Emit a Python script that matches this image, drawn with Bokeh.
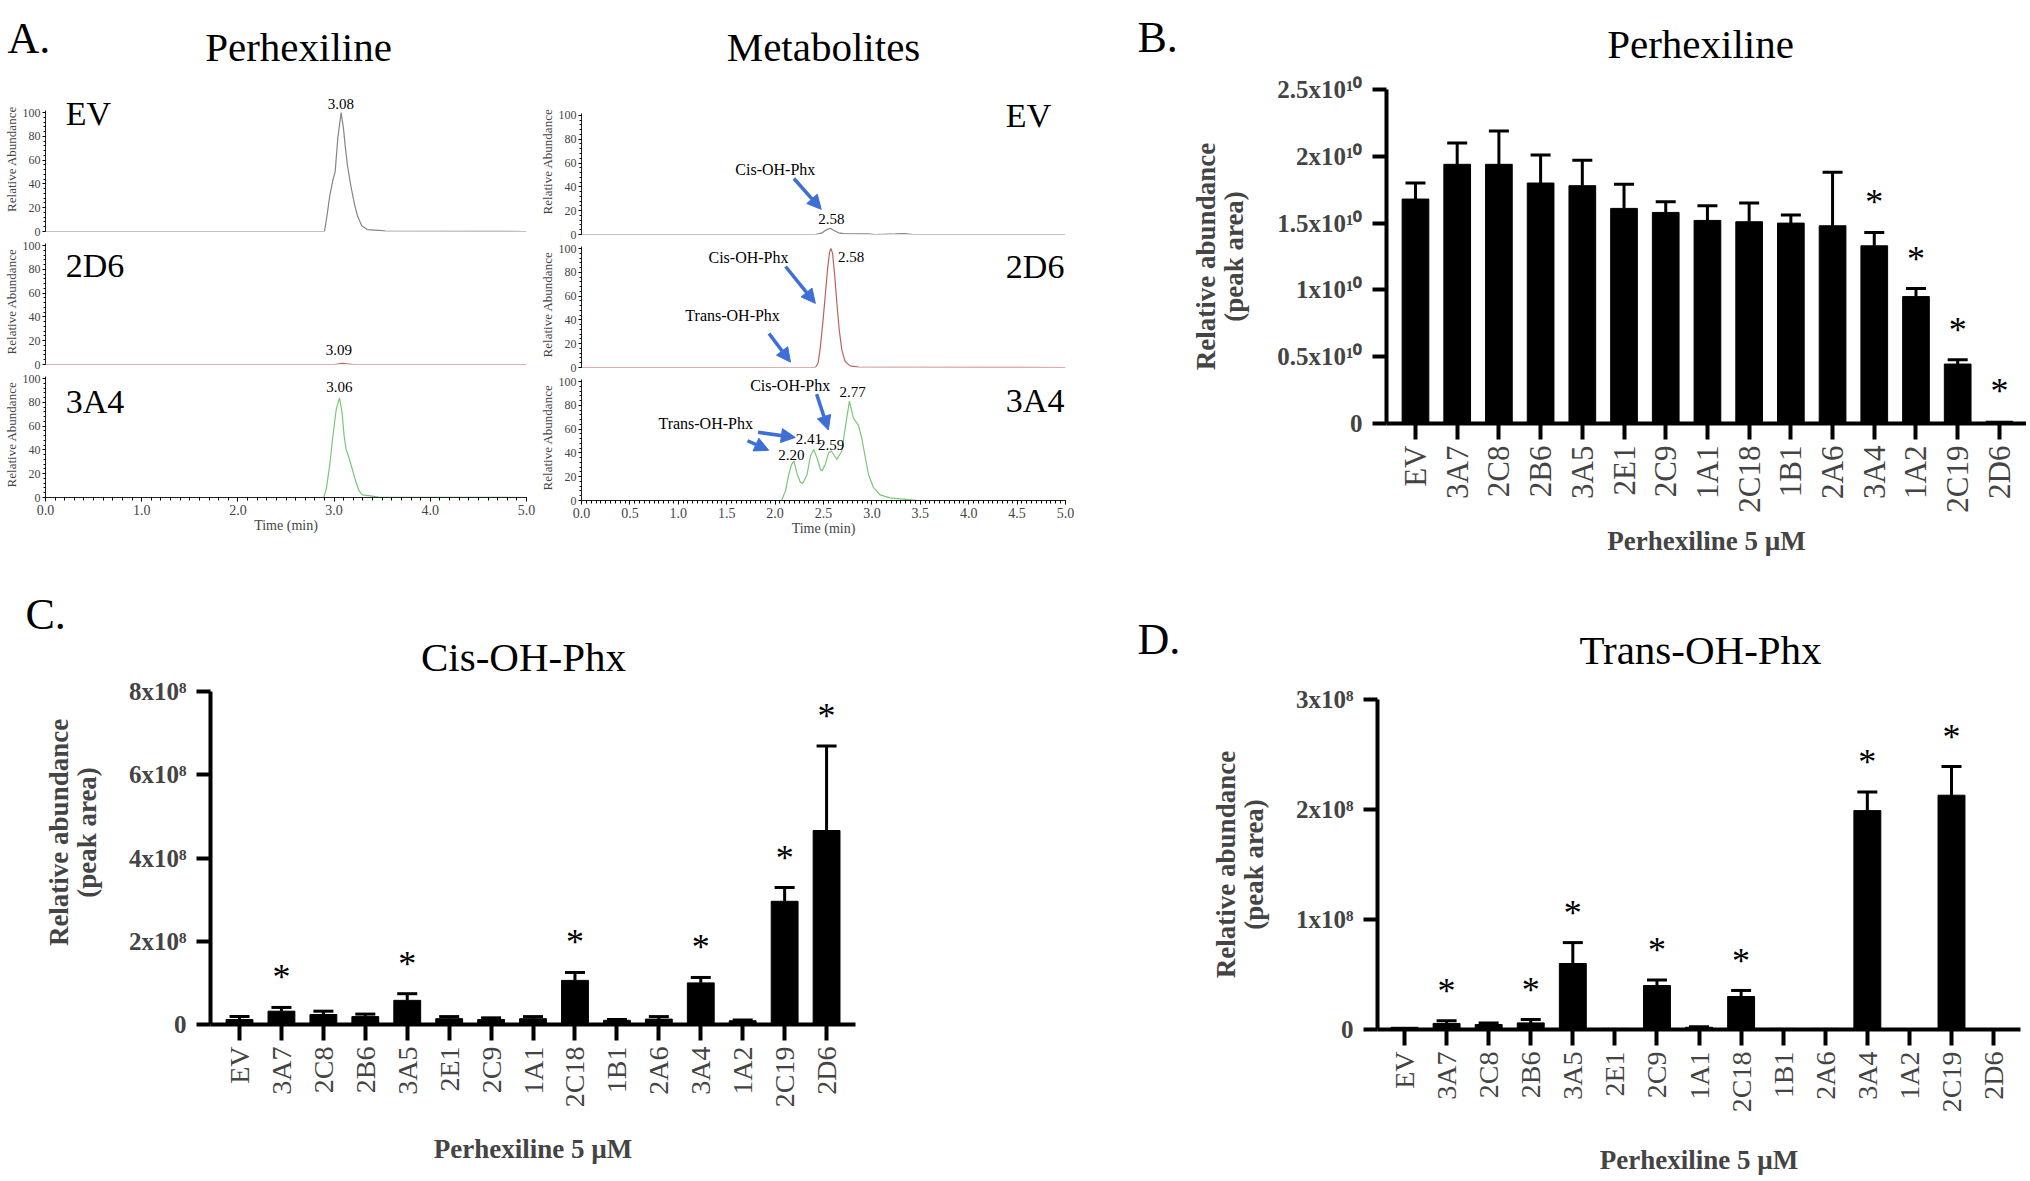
import numpy as np
from bokeh.plotting import figure
from bokeh.layouts import row, column
from bokeh.models import (Range1d, Label, Arrow, NormalHead, Whisker, TeeHead, ColumnDataSource,
                          SingleIntervalTicker, FixedTicker, NumeralTickFormatter, CustomJSTickFormatter)
from bokeh.embed import file_html
from bokeh.resources import INLINE
from bokeh.core.properties import value

SERIF = "Liberation Serif"
BLUE = "#3d6fd6"

# ---------------- data: chromatograms (time min, relative abundance %) ----------------
phx_ev_t = [0.0, 2.90, 2.926, 2.954, 2.988, 3.011, 3.039, 3.073, 3.097, 3.117, 3.141, 3.175, 3.209, 3.243, 3.287, 3.345, 3.498, 3.53, 5.0]
phx_ev_a = [0.0, 0.0, 13.2, 29.6, 43.4, 50.2, 79.0, 100.0, 87.0, 70.8, 54.3, 37.9, 24.1, 13.2, 4.9, 1.6, 0.8, 0.3, 0.0]
phx_2d6_t = [0.0, 3.0, 3.05, 3.09, 3.13, 3.2, 5.0]
phx_2d6_a = [0.0, 0.0, 0.5, 1.0, 0.5, 0.0, 0.0]
phx_3a4_t = [0.0, 2.892, 2.92, 2.954, 2.988, 3.022, 3.056, 3.083, 3.104, 3.124, 3.158, 3.192, 3.226, 3.26, 3.294, 3.396, 3.464, 5.0]
phx_3a4_a = [0.0, 0.0, 7.7, 27.0, 51.9, 74.0, 83.7, 71.2, 51.9, 40.8, 32.6, 22.9, 13.2, 5.5, 2.2, 1.1, 0.3, 0.0]

met_ev_t = [0.0, 2.416, 2.485, 2.536, 2.570, 2.604, 2.656, 2.707, 2.964, 3.03, 3.24, 3.34, 3.425, 5.0]
met_ev_a = [0.0, 0.0, 1.4, 4.1, 5.2, 3.5, 1.4, 0.8, 0.5, 0.0, 0.5, 0.8, 0.0, 0.0]
met_2d6_t = [0.0, 2.416, 2.444, 2.468, 2.495, 2.519, 2.543, 2.563, 2.577, 2.594, 2.615, 2.639, 2.663, 2.69, 2.724, 2.775, 2.861, 5.0]
met_2d6_a = [0.0, 0.0, 3.6, 17.4, 39.4, 61.4, 83.5, 97.2, 100.0, 95.9, 78.0, 53.2, 31.1, 14.6, 5.0, 1.4, 0.3, 0.0]
met_3a4_t = [0.0, 2.067, 2.108, 2.142, 2.169, 2.194, 2.228, 2.262, 2.286, 2.331, 2.365, 2.399, 2.433, 2.468,
             2.485, 2.519, 2.553, 2.580, 2.615, 2.638, 2.69, 2.724, 2.768, 2.809, 2.861, 2.895, 2.929, 2.964,
             3.015, 3.084, 3.186, 3.374, 3.477, 5.0]
met_3a4_a = [0.0, 0.0, 8.3, 22.1, 30.0, 33.2, 22.1, 15.2, 14.4, 22.1, 37.4, 42.9, 35.8, 26.3,
             24.9, 30.5, 40.2, 41.6, 37.4, 34.6, 41.6, 60.9, 83.6, 69.2, 63.2, 52.6, 37.4, 22.1,
             11.1, 4.7, 2.2, 0.8, 0.0, 0.0]

# ---------------- data: bar charts ----------------
cyp = ["EV", "3A7", "2C8", "2B6", "3A5", "2E1", "2C9", "1A1", "2C18", "1B1", "2A6", "3A4", "1A2", "2C19", "2D6"]

phx_mean = [1.68e10, 1.94e10, 1.94e10, 1.80e10, 1.78e10, 1.61e10, 1.58e10, 1.52e10, 1.51e10, 1.50e10, 1.48e10, 1.33e10, 0.95e10, 0.445e10, 0.017e10]
phx_err = [0.12e10, 0.16e10, 0.25e10, 0.21e10, 0.19e10, 0.18e10, 0.08e10, 0.11e10, 0.14e10, 0.06e10, 0.40e10, 0.10e10, 0.06e10, 0.033e10, 0.0]
phx_sig = ["3A4", "1A2", "2C19", "2D6"]
phx_yticks = [0, 0.5e10, 1.0e10, 1.5e10, 2.0e10, 2.5e10]

cis_mean = [0.12e8, 0.32e8, 0.24e8, 0.19e8, 0.58e8, 0.14e8, 0.12e8, 0.14e8, 1.06e8, 0.10e8, 0.13e8, 1.00e8, 0.09e8, 2.96e8, 4.66e8]
cis_err = [0.07e8, 0.09e8, 0.08e8, 0.06e8, 0.16e8, 0.05e8, 0.04e8, 0.05e8, 0.19e8, 0.02e8, 0.06e8, 0.13e8, 0.02e8, 0.33e8, 2.03e8]
cis_sig = ["3A7", "3A5", "2C18", "3A4", "2C19", "2D6"]
cis_yticks = [0, 2e8, 4e8, 6e8, 8e8]

trans_mean = [0.02e8, 0.055e8, 0.045e8, 0.06e8, 0.60e8, 0.01e8, 0.40e8, 0.02e8, 0.30e8, 0.01e8, 0.01e8, 1.99e8, 0.005e8, 2.13e8, 0.003e8]
trans_err = [0.0, 0.025e8, 0.015e8, 0.03e8, 0.19e8, 0.0, 0.05e8, 0.005e8, 0.055e8, 0.0, 0.0, 0.17e8, 0.0, 0.26e8, 0.0]
trans_sig = ["3A7", "2B6", "3A5", "2C9", "2C18", "3A4", "2C19"]
trans_yticks = [0, 1e8, 2e8, 3e8]

y_title = "Relative abundance\n(peak area)"
x_title = "Perhexiline 5 \u00b5M"


def lab(p, x, y, text, size, align="left", baseline="alphabetic", color="black"):
    p.add_layout(Label(x=x, y=y, text=text, text_font=SERIF, text_font_size=f"{size}px",
                       text_align=align, text_baseline=baseline, text_color=color))


def arrow(p, x0, y0, x1, y1):
    p.add_layout(Arrow(x_start=x0, y_start=y0, x_end=x1, y_end=y1, line_color=BLUE, line_width=3.5,
                       end=NormalHead(size=14, fill_color=BLUE, line_color=BLUE, line_width=1)))


def title_fig(width, height, text, size, border_top, align="center", offset=0, standoff=0):
    f = figure(width=width, height=height, x_range=Range1d(0, 1), y_range=Range1d(0, 1), title=text,
               min_border_left=0, min_border_right=0, min_border_bottom=0, min_border_top=border_top,
               output_backend="svg", toolbar_location=None)
    f.title.text_font = SERIF
    f.title.text_font_size = f"{size}px"
    f.title.text_font_style = "normal"
    f.title.text_color = "black"
    f.title.align = align
    f.title.offset = offset
    f.title.standoff = standoff
    f.title.vertical_align = "bottom"
    f.xaxis.visible = False
    f.yaxis.visible = False
    f.xgrid.visible = False
    f.ygrid.visible = False
    f.outline_line_color = None
    return f


def chrom(width, height, left, right, top, bottom, ymax, t, a, color, bottom_axis=False, major=1.0):
    p = figure(width=width, height=height, x_range=Range1d(0, 5), y_range=Range1d(0, ymax),
               min_border_left=left, min_border_right=right, min_border_top=top, min_border_bottom=bottom,
               output_backend="svg", toolbar_location=None)
    p.outline_line_color = None
    p.xgrid.grid_line_color = None
    p.ygrid.grid_line_color = None
    p.line(t, a, line_color=color, line_width=1.2)
    ya = p.yaxis[0]
    ya.ticker = SingleIntervalTicker(interval=20, num_minor_ticks=5)
    ya.bounds = (0, 102)
    ya.axis_label = "Relative Abundance"
    ya.axis_label_text_font = SERIF
    ya.axis_label_text_font_size = "13px"
    ya.axis_label_text_font_style = "normal"
    ya.axis_label_standoff = 1
    ya.major_label_text_font = SERIF
    ya.major_label_text_font_size = "12px"
    ya.major_label_standoff = 2
    ya.major_tick_out = 3
    ya.major_tick_in = 0
    ya.minor_tick_out = 2
    ya.minor_tick_in = 0
    ya.axis_line_color = "#222222"
    xa = p.xaxis[0]
    if bottom_axis:
        xa.ticker = SingleIntervalTicker(interval=major, num_minor_ticks=10)
        xa.formatter = NumeralTickFormatter(format="0.0")
        xa.axis_label = "Time (min)"
        xa.axis_label_text_font = SERIF
        xa.axis_label_text_font_size = "14px"
        xa.axis_label_text_font_style = "normal"
        xa.axis_label_standoff = 0
        xa.major_label_text_font = SERIF
        xa.major_label_text_font_size = "14px"
        xa.major_label_standoff = 3
        xa.major_tick_out = 4
        xa.major_tick_in = 0
        xa.minor_tick_out = 3
        xa.minor_tick_in = 0
        xa.axis_line_color = "#222222"
    else:
        xa.visible = False
    return p


GRAY = "#858585"
RED = "#bf6060"
GREEN = "#78c878"

# ---------------- A (left): Perhexiline chromatograms ----------------
aL1 = chrom(536, 158, 42, 10, 6, 7, 122, phx_ev_t, phx_ev_a, GRAY)
aL2 = chrom(536, 133, 42, 10, 0, 7, 105.9, phx_2d6_t, phx_2d6_a, RED)
aL3 = chrom(536, 209, 42, 10, 0, 83, 105.9, phx_3a4_t, phx_3a4_a, GREEN, bottom_axis=True, major=1.0)

lab(aL1, 0.21, 99, "EV", 34)
lab(aL2, 0.21, 83, "2D6", 34)
lab(aL3, 0.21, 81, "3A4", 34)
lab(aL1, 3.07, 107, "3.08", 15, align="center", baseline="middle")
lab(aL2, 3.05, 12.5, "3.09", 15, align="center", baseline="middle")
lab(aL3, 3.056, 93, "3.06", 15, align="center", baseline="middle")

# ---------------- A (right): Metabolite chromatograms ----------------
aR1 = chrom(574, 161, 42, 45, 8, 7, 122.6, met_ev_t, met_ev_a, GRAY)
aR2 = chrom(574, 133, 42, 45, 0, 7, 105.9, met_2d6_t, met_2d6_a, RED)
aR3 = chrom(574, 206, 42, 45, 0, 80, 105.9, met_3a4_t, met_3a4_a, GREEN, bottom_axis=True, major=0.5)

lab(aR1, 4.384, 100, "EV", 34)
lab(aR2, 4.384, 85, "2D6", 34)
lab(aR3, 4.384, 84, "3A4", 34)

lab(aR1, 2.002, 55, "Cis-OH-Phx", 16, align="center", baseline="middle")
arrow(aR1, 2.194, 47.0, 2.477, 21.1)
lab(aR1, 2.582, 13.1, "2.58", 15, align="center", baseline="middle")

lab(aR2, 1.725, 92.6, "Cis-OH-Phx", 16, align="center", baseline="middle")
lab(aR2, 1.561, 44.0, "Trans-OH-Phx", 16, align="center", baseline="middle")
lab(aR2, 2.649, 92.6, "2.58", 15, align="left", baseline="middle")
arrow(aR2, 2.108, 84.9, 2.416, 53.9)
arrow(aR2, 1.937, 28.6, 2.159, 4.5)

lab(aR3, 1.283, 65.1, "Trans-OH-Phx", 16, align="center", baseline="middle")
lab(aR3, 2.156, 96.7, "Cis-OH-Phx", 16, align="center", baseline="middle")
arrow(aR3, 1.824, 57.3, 2.209, 53.0)
arrow(aR3, 1.715, 50.2, 1.934, 42.2)
arrow(aR3, 2.429, 89.4, 2.550, 59.3)
lab(aR3, 2.169, 38.3, "2.20", 15, align="center", baseline="middle")
lab(aR3, 2.348, 51.9, "2.41", 15, align="center", baseline="middle")
lab(aR3, 2.580, 46.6, "2.59", 15, align="center", baseline="middle")
lab(aR3, 2.800, 91.5, "2.77", 15, align="center", baseline="middle")

hA = row(title_fig(60, 80, "A.", 44, 69, "left", 7, standoff=13),
         title_fig(476, 80, "Perhexiline", 41, 69, standoff=0),
         title_fig(574, 80, "Metabolites", 41, 69, standoff=0))


# ---------------- bar panels ----------------
def bars(width, height, left, right, top, bottom, xstart, xend, ymax, ytop, yticks, fmt, means, errs, sig,
         cat_size, ylab_standoff, xlab_standoff):
    p = figure(width=width, height=height, x_range=Range1d(xstart, xend), y_range=Range1d(0, ytop),
               min_border_left=left, min_border_right=right, min_border_top=top, min_border_bottom=bottom,
               output_backend="svg", toolbar_location=None)
    p.outline_line_color = None
    p.xgrid.grid_line_color = None
    p.ygrid.grid_line_color = None
    idx = list(range(len(cyp)))
    p.vbar(x=idx, top=means, bottom=0, width=0.64, fill_color="black", line_color="black")
    ex = [i for i in idx if errs[i] > 0]
    esrc = ColumnDataSource(dict(x=ex, lo=[means[i] for i in ex], hi=[means[i] + errs[i] for i in ex]))
    p.add_layout(Whisker(source=esrc, base="x", lower="lo", upper="hi", dimension="height",
                         line_color="black", line_width=3,
                         upper_head=TeeHead(size=20, line_width=3, line_color="black"), lower_head=None))
    sx = [cyp.index(c) for c in sig]
    sy = [means[i] + errs[i] + 0.09 * ymax for i in sx]
    p.text(x=sx, y=sy, text=["*"] * len(sx), text_font=value(SERIF), text_font_size=value("36px"),
           text_align="center", text_baseline="middle", text_color="black")
    xa = p.xaxis[0]
    xa.ticker = FixedTicker(ticks=idx)
    xa.major_label_overrides = {i: c for i, c in enumerate(cyp)}
    xa.major_label_orientation = np.pi / 2
    xa.major_label_text_font = SERIF
    xa.major_label_text_font_size = f"{cat_size}px"
    xa.major_label_standoff = 6
    xa.major_tick_out = 16
    xa.major_tick_in = 0
    xa.major_tick_line_width = 4
    xa.minor_tick_line_color = None
    xa.axis_line_width = 4
    xa.axis_label = x_title
    xa.axis_label_text_font = SERIF
    xa.axis_label_text_font_size = "27px"
    xa.axis_label_text_font_style = "bold"
    xa.axis_label_standoff = xlab_standoff
    ya = p.yaxis[0]
    ya.ticker = FixedTicker(ticks=yticks)
    ya.formatter = fmt
    ya.bounds = (0, ymax)
    ya.major_label_text_font = SERIF
    ya.major_label_text_font_size = "25px"
    ya.major_label_text_font_style = "bold"
    ya.major_label_standoff = 10
    ya.major_tick_out = 14
    ya.major_tick_in = 0
    ya.major_tick_line_width = 4
    ya.minor_tick_line_color = None
    ya.axis_line_width = 4
    ya.axis_label = y_title
    ya.axis_label_text_font = SERIF
    ya.axis_label_text_font_size = "27px"
    ya.axis_label_text_font_style = "bold"
    ya.axis_label_text_line_height = 0.95
    ya.axis_label_standoff = ylab_standoff
    return p


fmt10 = CustomJSTickFormatter(code='return tick == 0 ? "0" : (tick / 1e10) + "x10\u00b9\u2070";')
fmt8 = CustomJSTickFormatter(code='return tick == 0 ? "0" : (tick / 1e8) + "x10\u2078";')

# B
hB = row(title_fig(264, 70, "B.", 44, 66, "left", 27, standoff=10),
         title_fig(652, 70, "Perhexiline", 41, 66, standoff=0))
pB = bars(916, 510, 276, 0, 19, 157, -0.695, 14.65, 2.5e10, 2.5e10, phx_yticks, fmt10, phx_mean, phx_err, phx_sig,
          31, 25, 10)

# C (the title sits inside the plot area, above the y axis end)
hC = row(title_fig(1110, 60, "C.", 44, 58, "left", 25, standoff=0))
pC = bars(1110, 538, 210, 255, 0, 154, -0.692, 14.69, 8e8, 8e8 * 384 / 333, cis_yticks, fmt8, cis_mean, cis_err,
          cis_sig, 28, 24, 24)
lab(pC, 6.773, 8.84e8, "Cis-OH-Phx", 41, align="center")

# D
hD = row(title_fig(264, 104, "D.", 44, 92, "left", 27, standoff=18),
         title_fig(652, 104, "Trans-OH-Phx", 41, 92, standoff=0))
pD = bars(916, 494, 267, 6, 15, 146, -0.642, 14.64, 3e8, 3e8, trans_yticks, fmt8, trans_mean, trans_err, trans_sig,
          28, 24, 30)

top_row = row(column(hA, row(column(aL1, aL2, aL3), column(aR1, aR2, aR3))), column(hB, pB))
bottom_row = row(column(hC, pC), column(hD, pD))
layout = column(top_row, bottom_row)

open("out.html", "w").write(file_html(layout, INLINE))
